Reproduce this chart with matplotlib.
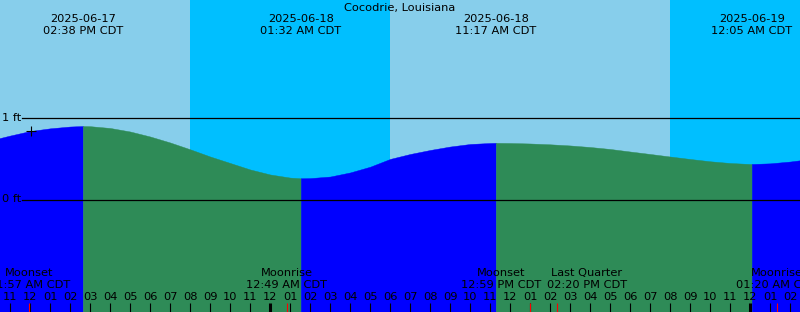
import datetime as dt
import math
import numpy as np
import matplotlib
matplotlib.use("Agg")
import matplotlib.pyplot as plt
import matplotlib.transforms as mtransforms

station = "Cocodrie, Louisiana"
t0 = dt.datetime(2025, 6, 17, 0, 0)
fmt = "%Y-%m-%d %H:%M"

# tide height, hours after 2025-06-17 00:00 CDT
curve_hours = [10, 11, 12, 13, 14, 14.6333, 15, 16, 17, 18, 19, 20, 21, 22,
               23, 24, 25, 25.5333, 26, 27, 28, 29, 30, 31, 32, 33, 34, 35,
               35.2833, 36, 37, 38, 39, 40, 41, 42, 43, 44, 45, 46, 47, 48,
               48.0833, 49, 50, 51]
curve_ft = [0.72, 0.78, 0.835, 0.868, 0.89, 0.896, 0.894, 0.872, 0.829,
            0.768, 0.695, 0.612, 0.524, 0.445, 0.366, 0.305, 0.267, 0.259,
            0.261, 0.28, 0.33, 0.40, 0.495, 0.555, 0.604, 0.646, 0.677,
            0.689, 0.691, 0.689, 0.683, 0.673, 0.659, 0.64, 0.616, 0.585,
            0.555, 0.524, 0.494, 0.466, 0.445, 0.433, 0.433, 0.441, 0.463,
            0.494]

extreme_times = ["2025-06-17 14:38", "2025-06-18 01:32",
                 "2025-06-18 11:17", "2025-06-19 00:05"]

# sunset, sunrise, sunset
sun_times = ["2025-06-17 19:59", "2025-06-18 05:59", "2025-06-18 19:59"]

moon_events = ["Moonset", "Moonrise", "Moonset", "Last Quarter", "Moonrise"]
moon_times = ["2025-06-17 11:57", "2025-06-18 00:49", "2025-06-18 12:59",
              "2025-06-18 14:20", "2025-06-19 01:20"]
moon_shift = [0, 0, -1.45, 1.5, 0]  # hours, keeps the labels apart

now_time = "2025-06-17 12:01"
ref_levels = [0, 1]

DAY = "#87ceeb"
NIGHT = "#00bfff"
RISE = "#0000ff"
FALL = "#2e8b57"


def hours(s):
    return (dt.datetime.strptime(s, fmt) - t0).total_seconds() / 3600.0


def main():
    W, H = 800, 312
    xmin = 10.49
    xmax = xmin + W / 20.0
    ymin = (199.5 - H) / 82.0
    ymax = 199.5 / 82.0
    fs = 8.2

    fig = plt.figure(figsize=(8, 3.12), dpi=100)
    ax = fig.add_axes([0, 0, 1, 1])
    ax.set_xlim(xmin, xmax)
    ax.set_ylim(ymin, ymax)
    ax.axis("off")
    xt = mtransforms.blended_transform_factory(ax.transData, ax.transAxes)
    yt = mtransforms.blended_transform_factory(ax.transAxes, ax.transData)

    # day / night background
    edges = [xmin] + [hours(s) for s in sun_times] + [xmax]
    for i in range(len(edges) - 1):
        ax.axvspan(edges[i], edges[i + 1], color=DAY if i % 2 == 0 else NIGHT,
                   lw=0, zorder=0)

    # rising / falling water
    th = np.array(curve_hours)
    hf = np.array(curve_ft)
    ext = [hours(s) for s in extreme_times]
    bounds = [th[0]] + ext + [th[-1]]
    for a, b in zip(bounds[:-1], bounds[1:]):
        m = (th >= a - 0.01) & (th <= b + 0.01)
        rising = hf[m][-1] > hf[m][0]
        c = RISE if rising else FALL
        ax.fill_between(th[m], hf[m], ymin, color=c, ec=c, lw=0.3, zorder=1)

    for lev in ref_levels:
        ax.axhline(lev, xmin=22 / W, xmax=1, color="black", lw=0.9, zorder=2)
        ax.text(2 / W, lev, "%d ft" % lev, transform=yt, ha="left",
                va="center", fontsize=fs)

    # current time mark
    tn = hours(now_time)
    ax.plot([tn], [np.interp(tn, th, hf)], marker="+", color="black", ms=6.5,
            mew=0.8, zorder=3)

    ax.text(0.5, 1 - 8 / H, station, transform=ax.transAxes, ha="center",
            va="center", fontsize=fs)

    for s in extreme_times:
        d = dt.datetime.strptime(s, fmt)
        x = hours(s)
        ax.text(x, 1 - 19 / H, d.strftime("%Y-%m-%d"), transform=xt,
                ha="center", va="center", fontsize=fs)
        ax.text(x, 1 - 31 / H, d.strftime("%I:%M %p CDT"), transform=xt,
                ha="center", va="center", fontsize=fs)

    # hour labels and ticks
    for h in range(math.ceil(xmin), math.floor(xmax) + 1):
        d = t0 + dt.timedelta(hours=h)
        ax.text(h, 1 - 297 / H, d.strftime("%I"), transform=xt, ha="center",
                va="center", fontsize=fs, zorder=4)
        lw = 2.2 if d.hour == 0 else 0.8
        ax.plot([h, h], [0, 9 / H], transform=xt, color="black", lw=lw,
                solid_capstyle="butt", zorder=4)

    for name, s, sh in zip(moon_events, moon_times, moon_shift):
        d = dt.datetime.strptime(s, fmt)
        x = hours(s)
        ax.plot([x, x], [0, 9 / H], transform=xt, color="red", lw=0.8,
                solid_capstyle="butt", zorder=5)
        ax.text(x + sh, 1 - 273 / H, name, transform=xt, ha="center",
                va="center", fontsize=fs, zorder=4)
        ax.text(x + sh, 1 - 285 / H, d.strftime("%I:%M %p CDT"), transform=xt,
                ha="center", va="center", fontsize=fs, zorder=4)

    fig.savefig("out.png", dpi=100)


if __name__ == "__main__":
    main()
